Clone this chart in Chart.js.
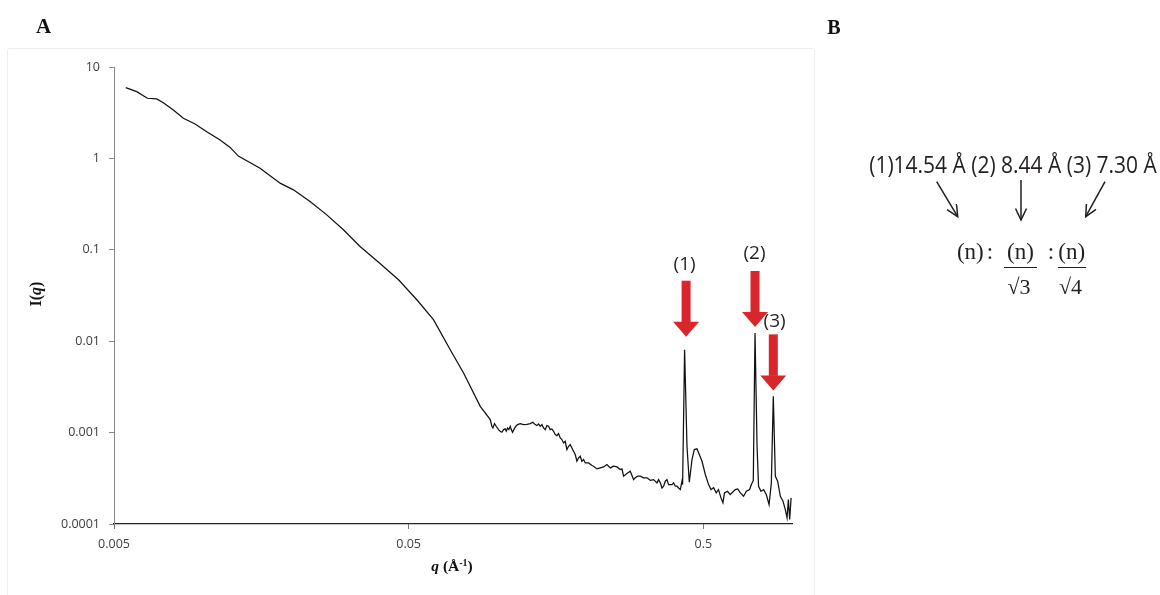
<!DOCTYPE html>
<html><head><meta charset="utf-8">
<script src="https://cdn.jsdelivr.net/npm/chart.js@4.4.1/dist/chart.umd.min.js"></script>
<style>
html,body{margin:0;padding:0;background:#fff;}
#wrap{position:relative;width:1160px;height:595px;overflow:hidden;background:#fff;}
#chart{position:absolute;left:0;top:0;}
#frame{position:absolute;left:7px;top:48px;width:808px;height:600px;border:1px solid #efefef;border-radius:3px;box-sizing:border-box;}
.c{position:absolute;white-space:nowrap;line-height:1;transform:translate(-50%,-50%);}
.serifb{font-family:"Liberation Serif","DejaVu Serif",serif;font-weight:bold;color:#111;}
.sans{font-family:"Open Sans","Noto Sans",sans-serif;color:#231f20;}
.serif{font-family:"Liberation Serif","DejaVu Serif",serif;color:#231f20;}
.bar{position:absolute;height:1.4px;background:#231f20;}
svg{position:absolute;left:0;top:0;}
</style></head>
<body><div id="wrap">
<div id="frame"></div>
<canvas id="chart" width="1160" height="595"></canvas>
<div class="c serifb" style="left:43.5px;top:26px;font-size:21px;">A</div>
<div class="c serifb" style="left:834px;top:27px;font-size:20px;">B</div>
<div class="c serifb" style="left:35.5px;top:294px;font-size:16px;transform:translate(-50%,-50%) rotate(-90deg);">I(<i>q</i>)</div>
<div class="c serifb" style="left:452px;top:566px;font-size:15.5px;"><i>q</i> (Å<sup style="font-size:10px;vertical-align:5px;">-1</sup>)</div>
<div class="c sans" style="left:1012.5px;top:164px;font-size:23px;transform:translate(-50%,-50%) scaleX(0.912);">(1)14.54 Å (2) 8.44 Å (3) 7.30 Å</div>
<div class="c serif" style="left:970.3px;top:250.5px;font-size:23px;">(n)</div>
<div class="c serif" style="left:990px;top:250.5px;font-size:23px;">:</div>
<div class="c serif" style="left:1020.5px;top:250.5px;font-size:23px;">(n)</div>
<div class="c serif" style="left:1051px;top:250.5px;font-size:23px;">:</div>
<div class="c serif" style="left:1071.7px;top:250.5px;font-size:23px;">(n)</div>
<div class="bar" style="left:1004px;top:266.5px;width:33px;"></div>
<div class="bar" style="left:1057.5px;top:266.5px;width:28.5px;"></div>
<div class="c serif" style="left:1019px;top:287px;font-size:22px;">√3</div>
<div class="c serif" style="left:1070.5px;top:287px;font-size:22px;">√4</div>
<svg width="1160" height="595" viewBox="0 0 1160 595">
<defs><marker id="ah" markerUnits="userSpaceOnUse" markerWidth="14" markerHeight="14" refX="12" refY="6" orient="auto">
<path d="M0.5,0.5 L12,6 L0.5,11.5" fill="none" stroke="#231f20" stroke-width="1.5"/></marker></defs>
<line x1="936.7" y1="181.7" x2="957.7" y2="216.7" stroke="#231f20" stroke-width="1.5" marker-end="url(#ah)"/>
<line x1="1021" y1="180" x2="1021" y2="220" stroke="#231f20" stroke-width="1.5" marker-end="url(#ah)"/>
<line x1="1105" y1="181.7" x2="1085.7" y2="216.7" stroke="#231f20" stroke-width="1.5" marker-end="url(#ah)"/>
</svg>
</div>
<script>
// ---- data (q in 1/Å, I(q)) ----
const qValues = [
 0.00548,0.00597,0.00649,0.00698,0.00735,0.00795,0.00860,0.00942,0.01032,0.01146,
 0.01239,0.01321,0.01566,0.01831,0.02032,0.02314,0.02637,0.03003,0.0342,0.0397,
 0.0462,0.0533,0.0607,0.0692,0.0768,0.0875,
 0.0946,0.0958,0.0966,0.0978,0.0991,0.1009,0.1022,0.1036,0.1050,0.1063,
 0.1072,0.1083,0.1094,0.1106,0.1115,0.1126,0.1141,0.1156,0.1171,0.1196,
 0.1227,0.1260,0.1293,0.1320,0.1344,0.1362,0.1380,0.1398,0.1417,0.1435,
 0.1454,0.1473,0.1492,0.1512,0.1531,0.1552,0.1572,0.1593,0.1613,0.1635,
 0.1656,0.1678,0.1700,0.1722,0.1745,0.1767,0.1791,0.1814,0.1838,0.1862,
 0.1886,0.1911,0.1936,0.1962,0.1988,0.2040,0.2094,0.2121,0.2177,0.2235,
 0.2294,0.2354,0.2417,0.2480,0.2546,0.2613,0.2647,0.2682,0.2753,0.2825,
 0.2900,0.2938,0.2992,0.3055,0.3136,0.3219,0.3304,0.3391,0.3481,0.3526,
 0.3573,0.3620,0.3667,0.3715,0.3764,0.3813,0.3914,0.3965,0.4018,0.4071,
 0.4124,0.4178,0.4233,0.4253,0.4320,0.4401,0.4482,0.4577,0.466,0.4759,
 0.4950,0.508,0.521,0.531,0.542,0.553,0.563,0.574,0.583,0.590,
 0.604,0.617,0.642,0.654,0.668,0.685,0.700,0.718,0.728,0.739,
 0.749,0.761,0.770,0.785,0.801,0.818,0.836,0.851,0.864,0.878,
 0.894,0.913,0.932,0.949,0.962,0.972,0.982,0.993
];
const intensity = [
 5.94,5.37,4.55,4.47,4.07,3.39,2.75,2.38,1.96,1.59,
 1.32,1.06,0.781,0.536,0.453,0.337,0.241,0.1655,0.1087,0.0721,
 0.0470,0.0284,0.01718,0.00807,0.00449,0.001936,
 0.001387,0.001173,0.001125,0.001254,0.001173,0.001078,0.001034,0.001008,0.001078,0.001097,
 0.001034,0.001125,0.001078,0.001173,0.001078,0.001008,0.001097,0.001173,0.001223,0.001254,
 0.001223,0.001233,0.001254,0.001297,0.001223,0.001193,0.001243,0.001173,0.001223,0.001125,
 0.001078,0.001193,0.001173,0.001078,0.001097,0.001034,0.000951,0.000927,0.000975,0.000874,
 0.000839,0.000771,0.000804,0.000652,0.000709,0.000739,0.000680,0.000625,0.000575,0.000486,
 0.000528,0.000551,0.000486,0.000507,0.000466,0.000466,0.000436,0.000429,0.000401,0.000411,
 0.000421,0.000447,0.000411,0.000429,0.000421,0.000394,0.000401,0.000333,0.000356,0.000378,
 0.000306,0.000320,0.000333,0.000333,0.000320,0.000320,0.000301,0.000306,0.000282,0.000306,
 0.000282,0.000248,0.000259,0.000294,0.000306,0.000270,0.000270,0.000282,0.000259,0.000259,
 0.000248,0.000238,0.000294,0.000270,0.00807,0.000708,0.000286,0.000507,0.000652,0.000664,
 0.000486,0.000348,0.000270,0.000238,0.000249,0.000219,0.000238,0.000193,0.000171,0.000219,
 0.000228,0.000210,0.000238,0.000242,0.000219,0.000201,0.000228,0.000238,0.000270,0.000300,
 0.0123,0.000708,0.000259,0.000228,0.000238,0.000210,0.000163,0.000282,0.00249,0.000333,
 0.000294,0.000201,0.000178,0.000144,0.000117,0.000185,0.000112,0.000193
];
const xTickValues = [0.005, 0.05, 0.5];
const xTickLabels = ['0.005', '0.05', '0.5'];
const yTickValues = [0.0001, 0.001, 0.01, 0.1, 1, 10];
const yTickLabels = ['0.0001', '0.001', '0.01', '0.1', '1', '10'];
const peakQ = [0.432, 0.749, 0.864];
const peakI = [0.00807, 0.0123, 0.00249];
const peakLabels = ['(1)', '(2)', '(3)'];

// ---- styles ----
const ARROW = {color:'#d8262c', length:56, headLen:15, headW:26, shaftW:9,
  gap:[13,6,6], dx:[1.5,0,0], labelGap:[16,17,13], labelDx:[0,-0.5,1.3]};

const arrowPlugin = {
  id:'peakArrows',
  afterDatasetsDraw(chart){
    const {ctx} = chart; const x = chart.scales.x, y = chart.scales.y;
    ctx.save();
    peakQ.forEach((q,i)=>{
      const px = x.getPixelForValue(q) + ARROW.dx[i];
      const tip = y.getPixelForValue(peakI[i]) - ARROW.gap[i];
      const top = tip - ARROW.length, headTop = tip - ARROW.headLen;
      ctx.fillStyle = ARROW.color;
      ctx.fillRect(px - ARROW.shaftW/2, top, ARROW.shaftW, headTop - top + 0.5);
      ctx.beginPath();
      ctx.moveTo(px - ARROW.headW/2, headTop);
      ctx.lineTo(px + ARROW.headW/2, headTop);
      ctx.lineTo(px, tip);
      ctx.closePath(); ctx.fill();
      ctx.fillStyle = '#231f20';
      ctx.font = '19px "Open Sans", "Noto Sans", sans-serif';
      ctx.textAlign = 'center'; ctx.textBaseline = 'middle';
      ctx.fillText(peakLabels[i], x.getPixelForValue(q) + ARROW.labelDx[i], top - ARROW.labelGap[i]);
    });
    ctx.restore();
  }
};

const tickFont = {family:'"Open Sans", "Noto Sans", sans-serif', size:12.5};
new Chart(document.getElementById('chart'), {
  type:'line',
  data:{datasets:[{
    data: qValues.map((q,i)=>({x:q, y:intensity[i]})),
    borderColor:'#111', borderWidth:1.25, pointRadius:0, tension:0, fill:false
  }]},
  options:{
    responsive:false, animation:false, devicePixelRatio:1,
    layout:{padding:{left:0, top:67, right:368, bottom:31}},
    plugins:{legend:{display:false}, tooltip:{enabled:false}},
    scales:{
      x:{type:'logarithmic', min:0.005, max:1.0,
        afterBuildTicks:(s)=>{ s.ticks = xTickValues.map(v=>({value:v})); },
        afterFit:(s)=>{ s.height = 40; },
        border:{display:true, color:'#222', width:1.2},
        grid:{display:true, drawOnChartArea:false, drawTicks:true, tickLength:5, color:'#777'},
        ticks:{autoSkip:false, maxRotation:0, padding:7.5, color:'#3d3d3d', font:tickFont,
          callback:(v)=>{ const i = xTickValues.indexOf(v); return i>=0 ? xTickLabels[i] : ''; }}
      },
      y:{type:'logarithmic', min:0.0001, max:10,
        afterBuildTicks:(s)=>{ s.ticks = yTickValues.map(v=>({value:v})); },
        afterFit:(s)=>{ s.width = 114; },
        border:{display:true, color:'#888', width:1},
        grid:{display:true, drawOnChartArea:false, drawTicks:true, tickLength:5, color:'#888'},
        ticks:{autoSkip:false, padding:9, color:'#3d3d3d', font:tickFont,
          callback:(v)=>{ const i = yTickValues.indexOf(v); return i>=0 ? yTickLabels[i] : ''; }}
      }
    }
  },
  plugins:[arrowPlugin]
});
</script>
</body></html>
